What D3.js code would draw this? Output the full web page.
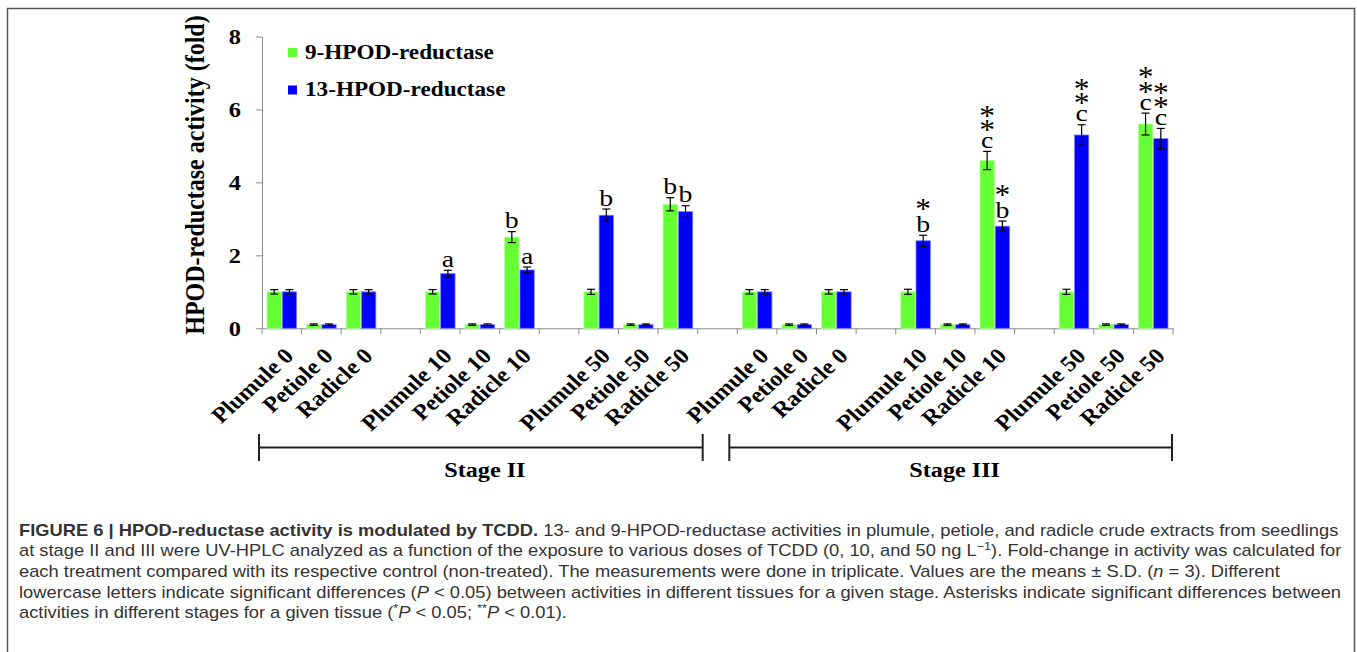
<!DOCTYPE html>
<html>
<head>
<meta charset="utf-8">
<script src="https://cdn.jsdelivr.net/npm/d3@7"></script>
<style>
  body { margin: 0; background: #fff; }
  svg { display: block; }
</style>
</head>
<body>
<svg id="fig" width="1357" height="652"></svg>
<script>
// tissues and doses make the 18 categories, stage by stage
var stages = ["Stage II", "Stage III"];
var doses = [0, 10, 50];
var tissues = ["Plumule", "Petiole", "Radicle"];

// fold change (means)
var hpod9  = [1.0, 0.1, 1.0,  1.0, 0.1, 2.5,  1.0, 0.1, 3.4,   1.0, 0.1, 1.0,  1.0, 0.1, 4.6,  1.0, 0.1, 5.6];
var hpod13 = [1.0, 0.1, 1.0,  1.5, 0.1, 1.6,  3.1, 0.1, 3.2,   1.0, 0.1, 1.0,  2.4, 0.1, 2.8,  5.3, 0.1, 5.2];
// S.D.
var sd9  = [0.06, 0.02, 0.06,  0.06, 0.02, 0.15,  0.07, 0.02, 0.18,   0.06, 0.02, 0.06,  0.07, 0.02, 0.25,  0.07, 0.02, 0.3];
var sd13 = [0.06, 0.02, 0.06,  0.09, 0.02, 0.08,  0.17, 0.02, 0.16,   0.06, 0.02, 0.06,  0.15, 0.02, 0.14,  0.28, 0.02, 0.28];
// letters and asterisks over the bars
var let9  = ["", "", "",  "", "", "b",  "", "", "b",   "", "", "",  "", "", "c",  "", "", "c"];
var let13 = ["", "", "",  "a", "", "a",  "b", "", "b",   "", "", "",  "b", "", "b",  "c", "", "c"];
var star9  = [0, 0, 0,  0, 0, 0,  0, 0, 0,   0, 0, 0,  0, 0, 2,  0, 0, 2];
var star13 = [0, 0, 0,  0, 0, 0,  0, 0, 0,   0, 0, 0,  1, 0, 1,  2, 0, 2];

var yTicks = [0, 2, 4, 6, 8];
var series = ["9-HPOD-reductase", "13-HPOD-reductase"];
var colors = ["#66ff33", "#0000ff"];
var edges = ["#b3ff99", "#7f7fff"];

var SX = 1.16; // the figure is stretched sideways
var serif = "'Liberation Serif', 'Times New Roman', serif";

var svg = d3.select("#fig");

svg.append("rect").attr("width", 1357).attr("height", 652).attr("fill", "#fff");
svg.append("rect")
  .attr("x", 7.5).attr("y", 8.5).attr("width", 1347).attr("height", 700)
  .attr("fill", "none").attr("stroke", "#555").attr("stroke-width", 1.5);

// build slots: 3 tissues per dose, with an empty slot between groups
var slots = [];
var rows = [];
stages.forEach(function(st, si) {
  doses.forEach(function(d, di) {
    tissues.forEach(function(t) {
      var key = st + "|" + t + " " + d;
      slots.push(key);
      rows.push({key: key, label: t + " " + d});
    });
    if (!(si == stages.length - 1 && di == doses.length - 1))
      slots.push(st + "|gap" + d);
  });
});
rows.forEach(function(r, i) {
  r.v = [hpod9[i], hpod13[i]];
  r.sd = [sd9[i], sd13[i]];
  r.let = [let9[i], let13[i]];
  r.star = [star9[i], star13[i]];
});

var x = d3.scaleBand().domain(slots).range([262, 1173]);
var bw = x.bandwidth();
var xs = d3.scaleBand().domain([0, 1]).range([5, bw - 5]).paddingInner(0.06);
var y = d3.scaleLinear().domain([0, 8]).range([328.3, 36.5]);

function stext(g, tx, ty, str, size, sx, anchor, extra) {
  return g.append("text")
    .attr("transform", "translate(" + tx + "," + ty + ") scale(" + sx + ",1)" + (extra || ""))
    .attr("text-anchor", anchor || "start")
    .style("font-family", serif)
    .style("font-size", size + "px")
    .text(str);
}

// y axis
var yAxis = svg.append("g")
  .attr("transform", "translate(262,0)")
  .call(d3.axisLeft(y).tickValues(yTicks).tickSize(6).tickSizeOuter(0));
yAxis.select(".domain").attr("stroke", "#8c8c8c");
yAxis.selectAll(".tick line").attr("stroke", "#8c8c8c");
yAxis.selectAll(".tick text")
  .attr("x", -21 / SX).attr("dy", "0.34em")
  .attr("transform", "scale(" + SX + ",1)")
  .attr("fill", "#000")
  .style("font-family", serif).style("font-size", "21px").style("font-weight", "bold");

stext(svg, 204, 175, "HPOD-reductase activity (fold)", 24, SX, "middle", " rotate(-90)")
  .style("font-weight", "bold");

// x axis with labels at the category centres
var labelOf = {};
rows.forEach(function(r) { labelOf[r.key] = r.label; });
var xAxis = svg.append("g")
  .attr("transform", "translate(0," + y(0) + ")")
  .call(d3.axisBottom(x).tickSize(0).tickSizeOuter(0)
    .tickFormat(function(k) { return labelOf[k] || ""; }));
xAxis.select(".domain").attr("stroke", "#8c8c8c");
xAxis.selectAll(".tick text")
  .attr("x", 0).attr("y", 0).attr("dy", 0)
  .attr("text-anchor", "end")
  .attr("transform", "translate(13,29) scale(1.1,1) rotate(-45)")
  .attr("fill", "#000")
  .style("font-family", serif).style("font-size", "22px").style("font-weight", "bold");
// ticks sit on the slot boundaries
var bounds = [x.range()[0]].concat(slots.map(function(k) { return x(k) + bw; }));
xAxis.selectAll(".bound")
  .data(bounds)
  .enter()
  .append("line")
  .attr("x1", function(b) { return b; })
  .attr("x2", function(b) { return b; })
  .attr("y1", 0).attr("y2", 6)
  .attr("stroke", "#8c8c8c");

// bars
var cat = svg.selectAll(".cat")
  .data(rows)
  .enter()
  .append("g")
  .attr("transform", function(d) { return "translate(" + x(d.key) + ",0)"; });

[0, 1].forEach(function(s) {
  cat.append("rect")
    .attr("x", xs(s))
    .attr("y", function(d) { return y(d.v[s]); })
    .attr("width", xs.bandwidth())
    .attr("height", function(d) { return y(0) - y(d.v[s]); })
    .attr("fill", colors[s])
    .attr("stroke", edges[s])
    .attr("stroke-width", 0.8);

  var cx = xs(s) + xs.bandwidth() / 2;
  var eb = cat.append("g").attr("stroke", "#000").attr("stroke-width", 1.2);
  eb.append("line")
    .attr("x1", cx).attr("x2", cx)
    .attr("y1", function(d) { return y(d.v[s] + d.sd[s]); })
    .attr("y2", function(d) { return y(d.v[s] - d.sd[s]); });
  [1, -1].forEach(function(sg) {
    eb.append("line")
      .attr("x1", cx - 4).attr("x2", cx + 4)
      .attr("y1", function(d) { return y(d.v[s] + sg * d.sd[s]); })
      .attr("y2", function(d) { return y(d.v[s] + sg * d.sd[s]); });
  });

  // letters and asterisks
  cat.each(function(d) {
    if (!d.let[s]) return;
    var g = d3.select(this);
    var base = y(d.v[s] + d.sd[s]) - 3.5;
    stext(g, cx, base, d.let[s], 24, SX, "middle");
    var sb = base - (d.let[s] == "c" ? 9 : 14);
    for (var k = 0; k < d.star[s]; k++)
      stext(g, cx, sb - k * 14.3, "*", 30, 1.05, "middle");
  });
});

// legend
var leg = svg.selectAll(".leg")
  .data(series)
  .enter()
  .append("g")
  .attr("transform", function(d, i) { return "translate(288," + (48 + i * 37.5) + ")"; });
leg.append("rect").attr("width", 9).attr("height", 9)
  .attr("fill", function(d, i) { return colors[i]; });
leg.each(function(d) {
  stext(d3.select(this), 17, 10.5, d, 20, SX, "start").style("font-weight", "bold");
});

// stage brackets
var br = [
  [x(slots[0]) - 3, x(slots[11]) + 5],
  [x(slots[12]) - 8, x(slots[22]) + bw - 1]
];
stages.forEach(function(st, i) {
  var g = svg.append("g").attr("stroke", "#222").attr("stroke-width", 2);
  g.append("line").attr("x1", br[i][0]).attr("x2", br[i][1]).attr("y1", 447.5).attr("y2", 447.5);
  g.append("line").attr("x1", br[i][0]).attr("x2", br[i][0]).attr("y1", 434).attr("y2", 461);
  g.append("line").attr("x1", br[i][1]).attr("x2", br[i][1]).attr("y1", 434).attr("y2", 461);
  stext(svg, (br[i][0] + br[i][1]) / 2 + 4, 477, st, 22, 1.1, "middle").style("font-weight", "bold");
});

// caption
var caption = [
  [["b", "FIGURE 6 | HPOD-reductase activity is modulated by TCDD."], ["", " 13- and 9-HPOD-reductase activities in plumule, petiole, and radicle crude extracts from seedlings"]],
  [["", "at stage II and III were UV-HPLC analyzed as a function of the exposure to various doses of TCDD (0, 10, and 50 ng L"], ["sup", "\u22121"], ["", "). Fold-change in activity was calculated for"]],
  [["", "each treatment compared with its respective control (non-treated). The measurements were done in triplicate. Values are the means \u00b1 S.D. ("], ["i", "n"], ["", " = 3). Different"]],
  [["", "lowercase letters indicate significant differences ("], ["i", "P"], ["", " < 0.05) between activities in different tissues for a given stage. Asterisks indicate significant differences between"]],
  [["", "activities in different stages for a given tissue ("], ["sup", "*"], ["i", "P"], ["", " < 0.05; "], ["sup", "**"], ["i", "P"], ["", " < 0.01)."]]
];
var capLines = caption.map(function(line, li) {
  var t = svg.append("text")
    .attr("fill", "#333")
    .style("font-family", "'Liberation Sans', Arial, sans-serif")
    .style("font-size", "16px");
  var back = 0;
  line.forEach(function(p) {
    var ts = t.append("tspan").text(p[1]);
    if (p[0] == "b") ts.style("font-weight", "bold");
    if (p[0] == "i") ts.style("font-style", "italic");
    if (p[0] == "sup") {
      ts.attr("dy", -6 - back).style("font-size", "11px");
      back = -6;
    } else if (back) {
      ts.attr("dy", 6);
      back = 0;
    }
  });
  return {t: t, y: 535.5 + li * 20.7};
});
// the caption is stretched like the rest of the figure; fit the first line
var k = (1340 - 19) / capLines[0].t.node().getComputedTextLength();
capLines.forEach(function(c) {
  c.t.attr("transform", "translate(19," + c.y + ") scale(" + k + ",1)");
});
</script>
</body>
</html>
